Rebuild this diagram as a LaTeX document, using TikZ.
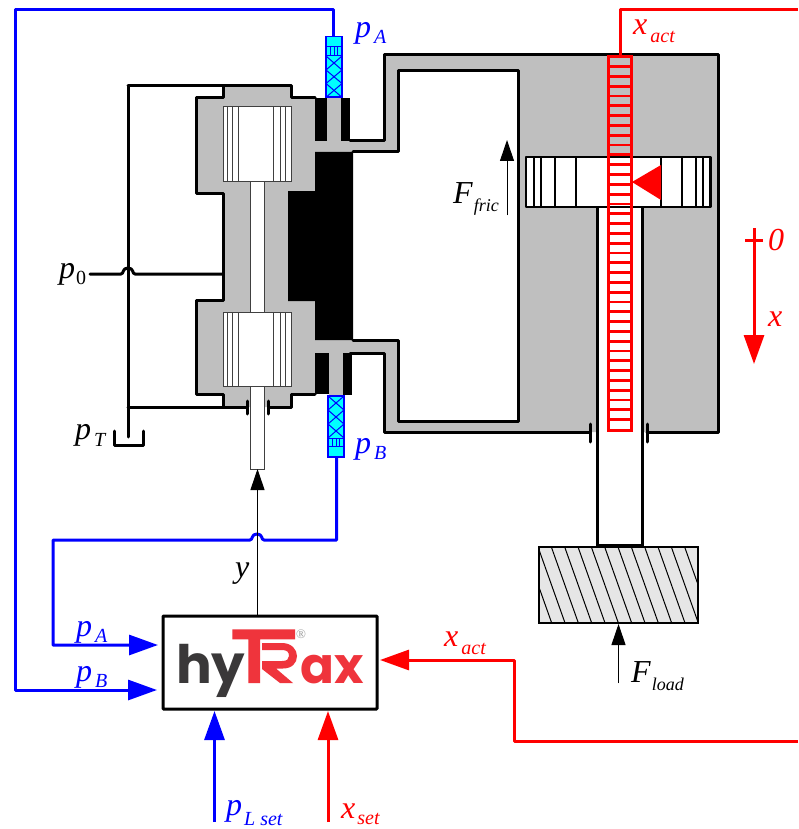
\documentclass[tikz,border=0pt]{standalone}
\usepackage{fontspec}
\usetikzlibrary{arrows.meta}
\setmainfont{Liberation Serif}
\newfontfamily\logofont{Poppins}
\newcommand\subtxt[3][20]{\kern3pt\raisebox{#2}{\fontsize{#1}{#1}\selectfont\itshape #3}}
\definecolor{bodygray}{HTML}{BFBFBF}
\definecolor{logored}{HTML}{EF343C}
\definecolor{logodark}{HTML}{3A3839}
\definecolor{masslight}{HTML}{E6E6E6}
\definecolor{sensorcyan}{HTML}{00FFFF}
\tikzset{
  lab/.style={anchor=base west,inner sep=0pt,font=\fontsize{32}{32}\selectfont\itshape},
  wall/.style={line width=3pt,line join=round,line cap=round},
  thinline/.style={line width=1pt,draw=black,fill=black},
  bluel/.style={line width=3pt,draw=blue,line join=round},
  redl/.style={line width=3pt,draw=red,line join=round},
  bigtip/.style={-{Triangle[length=29pt,width=20pt]}},
  smalltip/.style={-{Triangle[length=21pt,width=14pt]}},
  pistonline/.style={line width=1pt,draw=black!75},
  sens/.style={line width=1.6pt,draw=blue,fill=sensorcyan},
}
\begin{document}
\begin{tikzpicture}[x=1pt,y=-1pt]
\useasboundingbox (0,0) rectangle (798,829);
% grey fills
\fill[bodygray] (223,86)--(291,86)--(291,98)--(315,98)--(315,191)--(288,191)--(288,301)--(315,301)--(315,394)--(291,394)--(291,407)--(223,407)--(223,394)--(196,394)--(196,300)--(223,300)--(223,193)--(196,193)--(196,98)--(223,98)--cycle;
\fill[bodygray] (384,55)--(718,55)--(718,432)--(384,432)--(384,353)--(343,353)--(343,395)--(329,395)--(329,353)--(315,353)--(315,340)--(398,340)--(398,421)--(518,421)--(518,71)--(398,71)--(398,152)--(315,152)--(315,141)--(327,141)--(327,98)--(341,98)--(341,141)--(384,141)--cycle;
% black parts
\fill[black] (315,152)--(353,152)--(353,340)--(315,340)--(315,301)--(288,301)--(288,191)--(315,191)--cycle;
\fill[black] (315,98) rectangle (327,141);
\fill[black] (341,98) rectangle (350,141);
\fill[black] (315,353)--(329,353)--(329,394)--(315,394)--cycle;
\fill[black] (343,353) rectangle (352,395);
% valve spool
\draw[pistonline,fill=white] (250,182) rectangle (264,312);
\draw[pistonline,fill=white] (250,386) rectangle (264,469);
\foreach \ty/\by in {107/182,312/386}{
  \draw[pistonline,fill=white] (223,\ty) rectangle (291,\by);
  \foreach \vx in {227,232,238,273,280,285}{\draw[pistonline] (\vx,\ty)--(\vx,\by);}
}
% valve outline
\draw[wall] (128,86)--(291,86)--(291,98)--(315,98);
\draw[wall] (223,86)--(223,98)--(196,98)--(196,193)--(223,193)--(223,300)--(196,300)--(196,394)--(223,394)--(223,407);
\draw[wall] (128,407)--(247,407);
\draw[wall] (269,407)--(291,407)--(291,394)--(315,394);
\draw[wall] (247,401)--(247,414);
\draw[wall] (268.5,401)--(268.5,414);
% tank and p0
\draw[wall] (128,86)--(128,437);
\draw[wall] (114.5,431)--(114.5,445)--(143,445)--(143,431);
\draw[wall] (90,274)--(121,274) .. controls (124,274) and (122,268) .. (128,268) .. controls (134,268) and (132,274) .. (135,274)--(222,274);
% cylinder outline
\draw[wall] (350,140.5)--(384,140.5)--(384,55)--(718,55)--(718,432)--(647,432);
\draw[wall] (350,353)--(384,353)--(384,432)--(590,432);
\draw[wall] (353,152)--(398,152)--(398,71)--(518,71)--(518,421)--(398,421)--(398,340)--(353,340);
\draw[wall] (590,424)--(590,442);
\draw[wall] (647.5,424)--(647.5,442);
% piston and rod
\fill[white] (597,207) rectangle (642,546);
\draw[wall] (597,207)--(597,546)--(642,546)--(642,207);
\draw[wall,line width=2.5pt,fill=white] (526,157) rectangle (710.5,207);
\foreach \vx in {534,541,555,576,661,682,696,703}{\draw[line width=1.8pt] (\vx,157)--(\vx,207);}
\fill[red] (632,182)--(661,165)--(661,200)--cycle;
% red ladder
\foreach \ry in {66.7,76.5,...,425}{\draw[line width=2.8pt,red] (608,\ry)--(631,\ry);}
\draw[line width=3pt,red] (608,57) rectangle (631,430.5);
% load
\draw[line width=2pt,fill=masslight] (539,547) rectangle (698,623);
\begin{scope}
\clip (539,547) rectangle (698,623);
\foreach \k in {-1,...,14}{\draw[line width=1pt] ({551.7+13.33*\k},623)--({551.7+13.33*\k-27},547);}
\end{scope}
\draw[line width=2pt] (539,547) rectangle (698,623);
\draw[line width=3.5pt] (597,546)--(642,546);
% sensors
\foreach \xa/\xb/\ya/\yb/\yc/\yd/\ye/\yf in {326/342/36.7/47/56/70/83.5/97.3,328/344/457/446/438/424/410/396}{
  \draw[sens] (\xa,\ya) rectangle (\xb,\yf);
  \draw[line width=1pt,blue] (\xa,\yb)--(\xb,\yb) (\xa,\yc)--(\xb,\yc);
  \foreach \q in {4.5,8,11.5}{\draw[line width=1pt,blue] (\xa+\q,\yb)--(\xa+\q,\yc);}
  \draw[line width=1pt,blue] (\xa,\yc)--(\xb,\yd) (\xb,\yc)--(\xa,\yd) (\xa,\yd)--(\xb,\ye) (\xb,\yd)--(\xa,\ye) (\xa,\ye)--(\xb,\yf) (\xb,\ye)--(\xa,\yf);
}
% controller
\node[draw,line width=3pt,rounded corners=0.8pt,fill=white,minimum width=214pt,minimum height=93pt,inner sep=0pt] (ctrl) at (270,662.5) {};
% logo
\fill[logored] (232.3,629.3)--(295,629.3)--(295,639.3)--(260,639.3)--(260,683)--(248.3,683)--(248.3,639.3)--(232.3,639.3)--cycle;
\fill[logored] (262,643)--(282,643) .. controls (292,643) and (297,650) .. (297,656) .. controls (297,663) and (292,668.5) .. (283,668.5)--(276,668.5)--(293,683)--(280,683)--(262,669)--(262,661)--(282,661) .. controls (287,661) and (289,659) .. (289,656) .. controls (289,652) and (287,650) .. (282,650)--(262,650)--cycle;
\node[anchor=base west,inner sep=0pt,text=logodark,font={\logofont\bfseries\fontsize{53}{53}\selectfont}] (logohy) at (176,683) {hy};
\node[anchor=base west,inner sep=0pt,text=logored,font={\logofont\bfseries\fontsize{50}{50}\selectfont}] (logoax) at (300,683) {ax};
\node[inner sep=0pt,text=black!40,font={\fontsize{13}{13}\selectfont}] (logor) at (301,634) {®};
% blue connectors
\coordinate (pAtop) at (333,36.7);
\coordinate (pBbot) at (336.7,457);
\coordinate (inA) at (158,645);
\coordinate (inB) at (157,690);
\coordinate (inL) at (214.5,711);
\coordinate (inS) at (328,711);
\coordinate (inX) at (380,660);
\coordinate (footL) at (214.5,822);
\coordinate (footS) at (328,822);
\draw[bluel,bigtip] (pAtop)--(333,9.5)--(15,9.5)--(15,690)--(inB);
\draw[bluel,bigtip] (pBbot)--(336.7,540)--(264,540) .. controls (261,540) and (263,534) .. (257,534) .. controls (251,534) and (253,540) .. (250,540)--(53,540)--(53,645)--(inA);
\draw[bluel,bigtip] (footL)--(inL);
% red connectors
\coordinate (xtop) at (620,56);
\coordinate (xright) at (798,9.5);
\coordinate (xright2) at (798,741);
\draw[redl] (xtop)--(620,9.5)--(xright);
\draw[redl,bigtip] (xright2)--(514,741)--(514,660)--(inX);
\draw[redl,bigtip] (footS)--(inS);
% y
\coordinate (spool) at (257.5,469);
\draw[thinline,smalltip] (ctrl.north -| spool)--(spool);
% forces
\coordinate (ffA) at (507,215);
\coordinate (ffB) at (507,140);
\draw[thinline,smalltip] (ffA)--(ffB);
\coordinate (flA) at (618.5,683);
\coordinate (flB) at (618.5,624);
\draw[thinline,smalltip] (flA)--(flB);
% axis
\coordinate (axA) at (754,228);
\coordinate (axB) at (754,364);
\draw[redl,bigtip] (axA)--(axB);
\draw[redl] (745,240)--(763,240);
% labels
\node[lab,text=blue] (tpA) at (355,38) {p\subtxt{-6pt}{A}};
\node[lab,text=blue] (tpB) at (355,453) {p\subtxt{-6pt}{B}};
\node[lab,text=red] (txa) at (633,35) {x\subtxt{-8pt}{act}};
\node[lab] (tff) at (453,204) {F\kern-2pt\subtxt[18]{-8pt}{fric}};
\node[lab] (tp0) at (59,278) {p\kern1pt\raisebox{-6pt}{\fontsize{20}{20}\selectfont\upshape 0}};
\node[lab] (tpT) at (75,439) {p\subtxt{-7pt}{T}};
\node[lab] (ty) at (235,577) {y};
\node[lab,text=blue] (lpA) at (76,636) {p\subtxt{-6pt}{A}};
\node[lab,text=blue] (lpB) at (76,681) {p\subtxt{-6pt}{B}};
\node[lab,text=red] (lxa) at (444,646) {x\subtxt{-8pt}{act}};
\node[lab] (tfl) at (631,682) {F\kern-2pt\subtxt[18]{-8pt}{load}};
\node[lab,text=blue] (tpl) at (226,815) {p\kern-1pt\subtxt{-10pt}{L set}};
\node[lab,text=red] (txs) at (341,818) {x\kern-1pt\subtxt{-6pt}{set}};
\node[lab,text=red] (t0) at (768,250) {0};
\node[lab,text=red] (tx) at (768,326) {x};
\end{tikzpicture}
\end{document}
